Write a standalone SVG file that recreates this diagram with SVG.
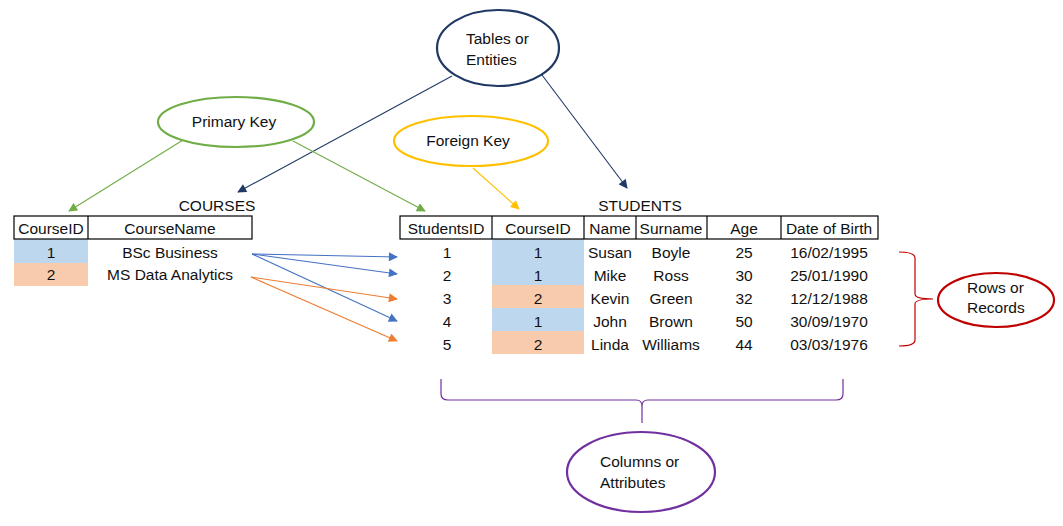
<svg xmlns="http://www.w3.org/2000/svg" width="1063" height="526" viewBox="0 0 1063 526">
<style>
text{font-family:"Liberation Sans",Arial,sans-serif;font-size:15.5px;fill:#111;}
.c{text-anchor:middle;}
.hdr{fill:#fff;stroke:#000;stroke-width:1.2;}
.div{stroke:#000;stroke-width:1.2;}
.blue{fill:#BDD7EE;}
.orange{fill:#F8CBAD;}
.conn line{stroke-width:1.1;fill:none;}
</style>
<defs>
<marker id="aNavy" viewBox="0 0 10 10" refX="9" refY="5" markerWidth="10" markerHeight="9" markerUnits="userSpaceOnUse" orient="auto"><path d="M0,0 L10,5 L0,10 z" fill="#1F3864"/></marker>
<marker id="aGreen" viewBox="0 0 10 10" refX="9" refY="5" markerWidth="10" markerHeight="9" markerUnits="userSpaceOnUse" orient="auto"><path d="M0,0 L10,5 L0,10 z" fill="#70AD47"/></marker>
<marker id="aYellow" viewBox="0 0 10 10" refX="9" refY="5" markerWidth="10" markerHeight="9" markerUnits="userSpaceOnUse" orient="auto"><path d="M0,0 L10,5 L0,10 z" fill="#FFC000"/></marker>
<marker id="aBlue" viewBox="0 0 10 10" refX="9" refY="5" markerWidth="10" markerHeight="9" markerUnits="userSpaceOnUse" orient="auto"><path d="M0,0 L10,5 L0,10 z" fill="#4472C4"/></marker>
<marker id="aOrange" viewBox="0 0 10 10" refX="9" refY="5" markerWidth="10" markerHeight="9" markerUnits="userSpaceOnUse" orient="auto"><path d="M0,0 L10,5 L0,10 z" fill="#ED7D31"/></marker>
</defs>
<rect width="1063" height="526" fill="#fff"/>

<g id="courses">
<text class="c" x="217" y="211">COURSES</text>
<rect class="blue" x="14" y="239" width="74" height="24"/>
<rect class="orange" x="14" y="263" width="74" height="23"/>
<rect class="hdr" x="14" y="216" width="238" height="23"/>
<line class="div" x1="88" y1="216" x2="88" y2="239"/>
<text class="c" x="51" y="234">CourseID</text>
<text class="c" x="170" y="234">CourseName</text>
<text class="c" x="51" y="258">1</text>
<text class="c" x="170" y="258">BSc Business</text>
<text class="c" x="51" y="280">2</text>
<text class="c" x="170" y="280">MS Data Analytics</text>
</g>

<g id="students">
<text class="c" x="640" y="211">STUDENTS</text>
<rect class="blue" x="492" y="239" width="92" height="46"/>
<rect class="orange" x="492" y="285" width="92" height="23"/>
<rect class="blue" x="492" y="308" width="92" height="23"/>
<rect class="orange" x="492" y="331" width="92" height="23"/>
<rect class="hdr" x="400" y="216" width="478" height="23"/>
<line class="div" x1="492" y1="216" x2="492" y2="239"/>
<line class="div" x1="584" y1="216" x2="584" y2="239"/>
<line class="div" x1="636" y1="216" x2="636" y2="239"/>
<line class="div" x1="707" y1="216" x2="707" y2="239"/>
<line class="div" x1="781" y1="216" x2="781" y2="239"/>
<text class="c" x="446" y="234">StudentsID</text>
<text class="c" x="538" y="234">CourseID</text>
<text class="c" x="610" y="234">Name</text>
<text class="c" x="671" y="234">Surname</text>
<text class="c" x="744" y="234">Age</text>
<text class="c" x="829" y="234">Date of Birth</text>

<text class="c" x="447" y="258">1</text><text class="c" x="538" y="258">1</text><text class="c" x="610" y="258">Susan</text><text class="c" x="671" y="258">Boyle</text><text class="c" x="744" y="258">25</text><text class="c" x="829" y="258">16/02/1995</text>
<text class="c" x="447" y="281">2</text><text class="c" x="538" y="281">1</text><text class="c" x="610" y="281">Mike</text><text class="c" x="671" y="281">Ross</text><text class="c" x="744" y="281">30</text><text class="c" x="829" y="281">25/01/1990</text>
<text class="c" x="447" y="304">3</text><text class="c" x="538" y="304">2</text><text class="c" x="610" y="304">Kevin</text><text class="c" x="671" y="304">Green</text><text class="c" x="744" y="304">32</text><text class="c" x="829" y="304">12/12/1988</text>
<text class="c" x="447" y="327">4</text><text class="c" x="538" y="327">1</text><text class="c" x="610" y="327">John</text><text class="c" x="671" y="327">Brown</text><text class="c" x="744" y="327">50</text><text class="c" x="829" y="327">30/09/1970</text>
<text class="c" x="447" y="350">5</text><text class="c" x="538" y="350">2</text><text class="c" x="610" y="350">Linda</text><text class="c" x="671" y="350">Williams</text><text class="c" x="744" y="350">44</text><text class="c" x="829" y="350">03/03/1976</text>
</g>

<g id="tables-entities">
<ellipse cx="498" cy="48" rx="61" ry="38" fill="#fff" stroke="#1F3864" stroke-width="2.2"/>
<text x="466" y="44">Tables or</text>
<text x="466" y="65">Entities</text>
</g>

<g id="primary-key">
<ellipse cx="236" cy="122" rx="78" ry="25" fill="#fff" stroke="#70AD47" stroke-width="2.2"/>
<text class="c" x="234" y="127">Primary Key</text>
</g>

<g id="foreign-key">
<ellipse cx="471" cy="141" rx="77" ry="25" fill="#fff" stroke="#FFC000" stroke-width="2.2"/>
<text class="c" x="468" y="146">Foreign Key</text>
</g>

<g id="rows-records">
<ellipse cx="996" cy="300" rx="58" ry="27" fill="#fff" stroke="#C00000" stroke-width="2.2"/>
<text x="967" y="293">Rows or</text>
<text x="967" y="313">Records</text>
</g>

<g id="columns-attributes">
<ellipse cx="641" cy="472" rx="74" ry="40" fill="#fff" stroke="#7030A0" stroke-width="2.2"/>
<text x="600" y="467">Columns or</text>
<text x="600" y="488">Attributes</text>
</g>

<g id="connectors" class="conn">
<line x1="452" y1="76" x2="238" y2="192" stroke="#1F3864" marker-end="url(#aNavy)"/>
<line x1="542" y1="75" x2="627" y2="188" stroke="#1F3864" marker-end="url(#aNavy)"/>
<line x1="183" y1="140" x2="69" y2="211" stroke="#70AD47" marker-end="url(#aGreen)"/>
<line x1="293" y1="141" x2="425" y2="211" stroke="#70AD47" marker-end="url(#aGreen)"/>
<line x1="473" y1="168" x2="519" y2="209" stroke="#FFC000" marker-end="url(#aYellow)"/>
<line x1="252" y1="254" x2="397" y2="257" stroke="#4472C4" marker-end="url(#aBlue)"/>
<line x1="252" y1="254" x2="397" y2="274" stroke="#4472C4" marker-end="url(#aBlue)"/>
<line x1="252" y1="254" x2="397" y2="321" stroke="#4472C4" marker-end="url(#aBlue)"/>
<line x1="251" y1="277" x2="397" y2="299" stroke="#ED7D31" marker-end="url(#aOrange)"/>
<line x1="251" y1="277" x2="397" y2="341" stroke="#ED7D31" marker-end="url(#aOrange)"/>
<path d="M899,252 Q915,252 915,258 L915,294 Q915,299 933,299 Q915,299 915,304 L915,340 Q915,346 899,346" fill="none" stroke="#C00000" stroke-width="1.2"/>
<path d="M441,379 L441,394 Q441,400 448,400 L636,400 Q642,400 642,406 L642,423 M642,406 Q642,400 648,400 L836,400 Q843,400 843,394 L843,379" fill="none" stroke="#7030A0" stroke-width="1.2"/>
</g>
</svg>
